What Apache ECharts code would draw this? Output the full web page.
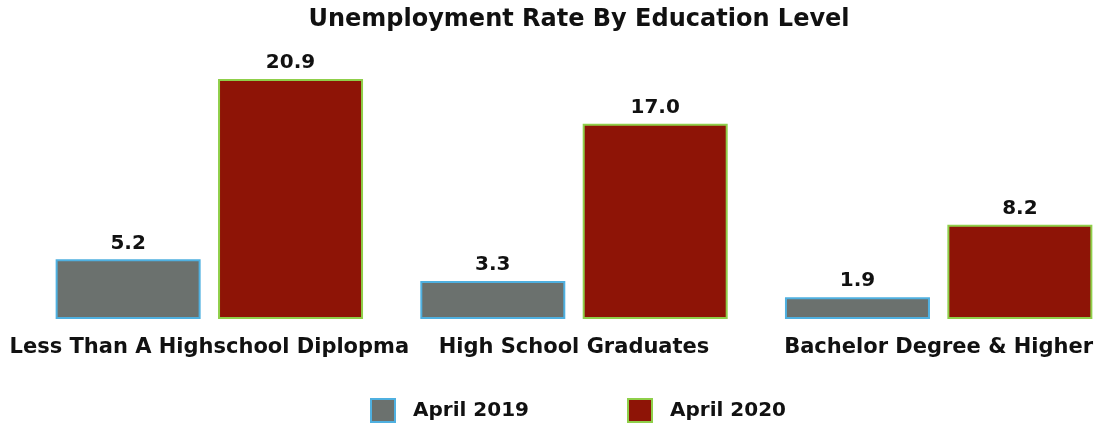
<!DOCTYPE html>
<html><head><meta charset="utf-8">
<script src="https://cdn.jsdelivr.net/npm/echarts@6/dist/echarts.min.js"></script>
<style>html,body{margin:0;padding:0;background:#fff}#c{width:1097px;height:425px}</style>
</head><body><div id="c"></div>
<script>
const categories = ["Less Than A Highschool Diplopma", "High School Graduates", "Bachelor Degree & Higher"];
const april2019 = [5.2, 3.3, 1.9];
const april2020 = [20.9, 17.0, 8.2];
const seriesNames = ["April 2019", "April 2020"];

const FONT = '"DejaVu Sans", sans-serif';
const chart = echarts.init(document.getElementById('c'));
const labelStyle = {show: true, position: 'top', distance: 6, fontFamily: FONT, fontWeight: 'bold', fontSize: 20, color: '#111',
  formatter: p => p.value.toFixed(1)};
chart.setOption({
  animation: false,
  title: {text: 'Unemployment Rate By Education Level', left: 574, textAlign: 'center', top: 3,
    textStyle: {fontFamily: FONT, fontWeight: 'bold', fontSize: 24, color: '#111'}},
  grid: {left: 27, right: -24, top: 32, bottom: 106, containLabel: false, outerBoundsMode: 'none'},
  legend: {bottom: 2, left: 370, padding: 0, icon: 'rect', itemWidth: 24, itemHeight: 23, itemGap: 98,
    textStyle: {fontFamily: FONT, fontWeight: 'bold', fontSize: 20, color: '#111', padding: [0, 0, 0, 13]},
    data: seriesNames},
  xAxis: {type: 'category', data: categories, axisLine: {show: false}, axisTick: {show: false},
    axisLabel: {margin: 18, fontFamily: FONT, fontWeight: 'bold', fontSize: 21, color: '#111', interval: 0}},
  yAxis: {type: 'value', min: 0, max: 25, show: false, splitLine: {show: false}},
  series: [
    {name: seriesNames[0], type: 'bar', data: april2019, barWidth: 145, barGap: '12%',
      itemStyle: {color: '#6b716e', borderColor: '#4fb0e0', borderWidth: 2}, label: labelStyle},
    {name: seriesNames[1], type: 'bar', data: april2020, barWidth: 145,
      itemStyle: {color: '#8e1406', borderColor: '#8fcf4a', borderWidth: 2}, label: labelStyle}
  ]
});
</script></body></html>
